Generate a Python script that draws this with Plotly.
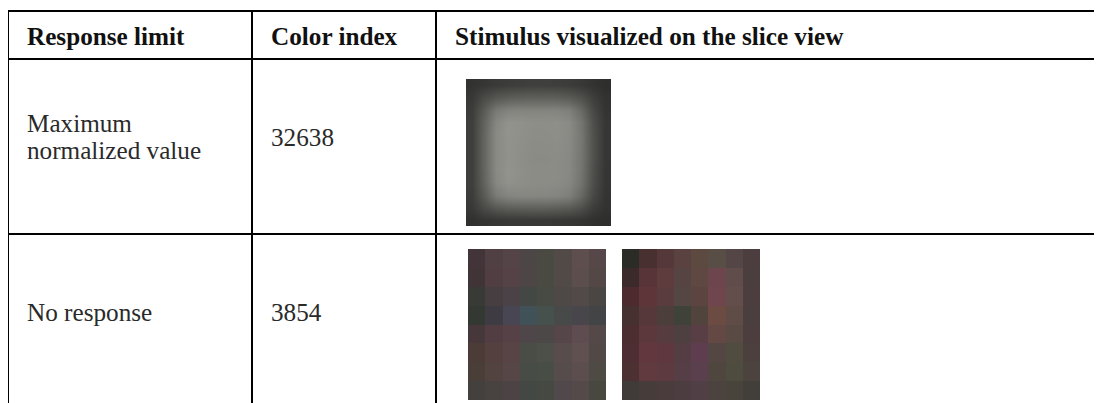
import plotly.graph_objects as go

# %% Table content
headers = ["Response limit", "Color index", "Stimulus visualized on the slice view"]
limits = [["Maximum", "normalized value"], ["No response"]]
color_index = ["32638", "3854"]

# %% Stimulus thumbnails (gray levels / RGB)
max_gray = [
    [50, 54, 58, 60, 62, 63, 63, 62, 60, 56, 50, 46],
    [56, 74, 86, 92, 94, 95, 95, 94, 90, 80, 62, 50],
    [60, 90, 120, 130, 132, 132, 132, 131, 126, 104, 72, 52],
    [62, 98, 134, 146, 145, 142, 142, 143, 138, 116, 78, 54],
    [62, 100, 138, 147, 144, 141, 141, 142, 138, 118, 80, 54],
    [62, 100, 138, 146, 143, 140, 140, 141, 137, 118, 80, 54],
    [62, 100, 138, 146, 142, 139, 139, 140, 136, 117, 80, 54],
    [62, 100, 138, 147, 143, 140, 140, 140, 136, 116, 78, 53],
    [62, 98, 135, 145, 142, 140, 140, 139, 134, 114, 77, 53],
    [60, 90, 122, 132, 134, 134, 134, 132, 126, 104, 72, 52],
    [56, 74, 86, 92, 93, 94, 94, 92, 88, 78, 60, 50],
    [48, 52, 54, 56, 56, 56, 56, 55, 54, 52, 48, 46],
]

no_resp_a = [
    [(66, 52, 56), (80, 64, 68), (84, 68, 72), (76, 70, 70), (74, 74, 66), (82, 74, 70), (94, 78, 78), (86, 72, 72)],
    [(64, 52, 54), (80, 62, 66), (84, 66, 70), (78, 70, 70), (74, 74, 66), (82, 74, 70), (92, 78, 76), (84, 72, 70)],
    [(56, 58, 54), (70, 62, 64), (74, 66, 70), (68, 72, 68), (72, 74, 68), (78, 72, 70), (82, 74, 72), (74, 70, 68)],
    [(52, 56, 50), (62, 60, 66), (72, 70, 82), (64, 82, 88), (70, 80, 76), (72, 74, 74), (72, 70, 74), (66, 68, 70)],
    [(70, 56, 58), (82, 62, 66), (86, 66, 70), (78, 70, 72), (76, 72, 72), (86, 70, 74), (94, 76, 80), (84, 72, 72)],
    [(76, 60, 56), (84, 64, 62), (88, 68, 68), (74, 76, 70), (76, 80, 72), (88, 76, 76), (96, 80, 80), (82, 72, 70)],
    [(74, 62, 56), (82, 66, 64), (86, 70, 70), (72, 76, 70), (72, 78, 70), (86, 76, 76), (92, 78, 78), (78, 74, 68)],
    [(68, 64, 62), (72, 66, 64), (76, 68, 68), (68, 72, 68), (70, 72, 66), (80, 72, 74), (84, 74, 74), (72, 72, 64)],
]

no_resp_b = [
    [(44, 44, 38), (72, 48, 48), (84, 56, 58), (90, 66, 64), (92, 74, 64), (88, 78, 70), (84, 70, 70), (76, 62, 62)],
    [(60, 42, 42), (88, 52, 56), (94, 60, 62), (86, 68, 66), (96, 72, 66), (108, 70, 76), (96, 76, 74), (74, 62, 62)],
    [(76, 42, 46), (94, 54, 58), (90, 60, 62), (84, 70, 66), (92, 68, 64), (112, 70, 78), (100, 78, 76), (76, 62, 62)],
    [(70, 48, 48), (86, 56, 58), (76, 62, 58), (62, 66, 56), (80, 68, 60), (108, 76, 66), (96, 76, 70), (74, 62, 62)],
    [(76, 46, 48), (92, 56, 60), (86, 60, 62), (78, 64, 64), (90, 62, 70), (100, 72, 68), (90, 74, 68), (76, 62, 62)],
    [(78, 46, 50), (98, 56, 62), (94, 56, 62), (84, 62, 68), (94, 62, 78), (84, 70, 66), (80, 76, 64), (76, 64, 62)],
    [(76, 48, 50), (96, 58, 62), (92, 58, 64), (86, 62, 70), (90, 64, 76), (80, 70, 64), (78, 76, 62), (76, 66, 62)],
    [(64, 58, 56), (70, 60, 58), (74, 60, 60), (76, 62, 64), (80, 64, 70), (76, 66, 64), (72, 68, 60), (66, 62, 58)],
]

# %% Page geometry (screen pixels; the page body adds an 8px offset)
W, H = 1102, 403
off = 8
col_x = [8, 252, 436]
row_y = [11, 59, 234]
pad = 17
serif = "Liberation Serif"
fsize = 25.2

fig = go.Figure()


def cell_grid(n, start, size):
    d = size / n
    return start + d / 2, d


# gray thumbnail, smoothed like the blurred original
gx0, gdx = cell_grid(len(max_gray[0]), 466, 145)
gy0, gdy = cell_grid(len(max_gray), 79, 147)
fig.add_trace(
    go.Heatmap(
        z=max_gray, x0=gx0, dx=gdx, y0=gy0, dy=gdy,
        zmin=0, zmax=255, zsmooth="best",
        colorscale=[[0, "rgb(0,0,0)"], [1, "rgb(255,255,246)"]],
        showscale=False, hoverinfo="skip",
    )
)


def add_thumb(img, left, top, width, height):
    x0, dx = cell_grid(len(img[0]), left, width)
    y0, dy = cell_grid(len(img), top, height)
    fig.add_trace(go.Image(z=img, x0=x0, dx=dx, y0=y0, dy=dy, hoverinfo="skip"))


add_thumb(no_resp_a, 468, 249, 138, 151)
add_thumb(no_resp_b, 622, 249, 138, 151)

# table rules
line = dict(color="black", width=2)
for y in row_y:
    fig.add_shape(type="line", x0=col_x[0] - 1, x1=W + off, y0=y, y1=y, xref="x", yref="y", line=line)
for x in col_x:
    fig.add_shape(type="line", x0=x, x1=x, y0=row_y[0], y1=H + off, xref="x", yref="y", line=line)

# header
for x, text in zip(col_x, headers):
    fig.add_annotation(
        x=x + pad, y=(row_y[0] + row_y[1]) / 2 + 1, text=f"<b>{text}</b>",
        xanchor="left", yanchor="middle", showarrow=False,
        font=dict(family=serif, size=fsize, color="#111111"),
    )

# body
row_centers = [137, 312]
line_gap = 27
body_font = dict(family=serif, size=fsize, color="#2a2a2a")
for yc, lim, idx in zip(row_centers, limits, color_index):
    first = yc - line_gap * (len(lim) - 1) / 2
    for i, part in enumerate(lim):
        fig.add_annotation(
            x=col_x[0] + pad, y=first + i * line_gap, text=part,
            xanchor="left", yanchor="middle", showarrow=False, font=body_font,
        )
    fig.add_annotation(
        x=col_x[1] + pad, y=yc, text=idx,
        xanchor="left", yanchor="middle", showarrow=False, font=body_font,
    )

fig.update_xaxes(range=[off, W + off], visible=False, fixedrange=True)
fig.update_yaxes(range=[H + off, off], visible=False, fixedrange=True)
fig.update_layout(
    width=W,
    height=H,
    margin=dict(l=0, r=0, t=0, b=0),
    paper_bgcolor="white",
    plot_bgcolor="white",
    showlegend=False,
)
fig.write_html("out.html")
